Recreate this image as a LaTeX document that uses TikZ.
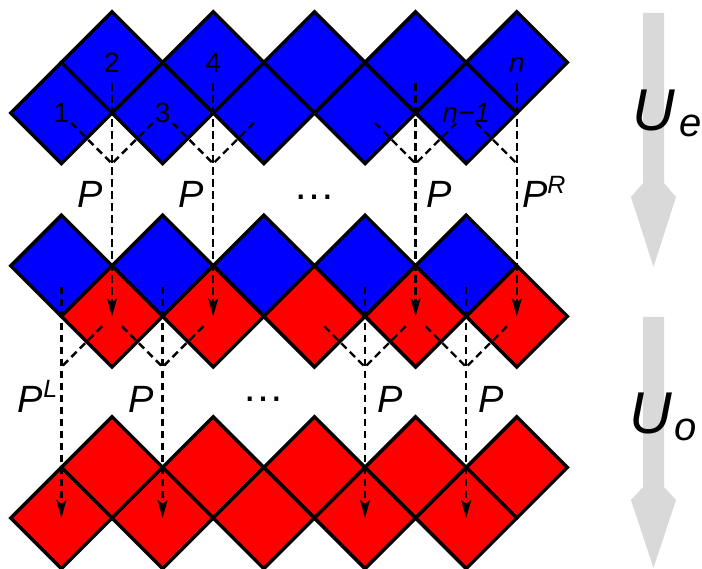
\documentclass[tikz,border=0pt]{standalone}
\usepackage{fontspec}
\setmainfont{Liberation Sans}
\usetikzlibrary{positioning,shapes.geometric,arrows.meta}

\tikzset{
  tile/.style={diamond, aspect=1, draw, line width=3.4pt, minimum size=101.2pt,
    inner sep=0pt, outer sep=0pt, font=\fontsize{28}{28}\selectfont,
    text height=20pt, text depth=0pt},
  btile/.style={tile, fill=blue},
  rtile/.style={tile, fill=red},
  gate/.style={line width=2.4pt, dash pattern=on 7.5pt off 4.5pt},
  gatearrow/.style={gate, -{Stealth[length=18pt,width=10pt,inset=4pt]}},
  plabel/.style={inner sep=0pt, font=\fontsize{38}{38}\selectfont\itshape,
    text height=27pt, text depth=0pt},
  dotlabel/.style={inner sep=0pt, anchor=base, font=\fontsize{42}{42}\selectfont},
  ulabel/.style={inner sep=0pt, anchor=base west, font=\fontsize{59}{59}\selectfont\itshape},
}

\begin{document}
\begin{tikzpicture}[x=1pt,y=-1pt]
\useasboundingbox (0,0) rectangle (702,569);

% top block
\node[btile] (a1) at (61.4,113) {1};
\node[btile] (a3) [right=0pt of a1] {3};
\node[btile] (a5) [right=0pt of a3] {};
\node[btile] (a7) [right=0pt of a5] {};
\node[btile] (a9) [right=0pt of a7] {\itshape n−1};
\node[btile] (a2) at (112,62.4) {2};
\node[btile] (a4) [right=0pt of a2] {4};
\node[btile] (a6) [right=0pt of a4] {};
\node[btile] (a8) [right=0pt of a6] {};
\node[btile] (a10) [right=0pt of a8] {\itshape n};

% middle block
\node[btile] (b1) at (61.4,265.8) {};
\node[btile] (b3) [right=0pt of b1] {};
\node[btile] (b5) [right=0pt of b3] {};
\node[btile] (b7) [right=0pt of b5] {};
\node[btile] (b9) [right=0pt of b7] {};
\node[rtile] (b2) at (112,316.4) {};
\node[rtile] (b4) [right=0pt of b2] {};
\node[rtile] (b6) [right=0pt of b4] {};
\node[rtile] (b8) [right=0pt of b6] {};
\node[rtile] (b10) [right=0pt of b8] {};

% bottom block
\node[rtile] (c2) at (112,467.4) {};
\node[rtile] (c4) [right=0pt of c2] {};
\node[rtile] (c6) [right=0pt of c4] {};
\node[rtile] (c8) [right=0pt of c6] {};
\node[rtile] (c10) [right=0pt of c8] {};
\node[rtile] (c1) at (61.4,518) {};
\node[rtile] (c3) [right=0pt of c1] {};
\node[rtile] (c5) [right=0pt of c3] {};
\node[rtile] (c7) [right=0pt of c5] {};
\node[rtile] (c9) [right=0pt of c7] {};

\coordinate (v2)  at (a2 |- a1.south);
\coordinate (v4)  at (a4 |- a1.south);
\coordinate (v8)  at (a8 |- a1.south);
\coordinate (v10) at (a10 |- a1.south);
\coordinate (w1)  at (b1 |- b2.south);
\coordinate (w3)  at (b3 |- b2.south);
\coordinate (w7)  at (b7 |- b2.south);
\coordinate (w9)  at (b9 |- b2.south);

\draw[gate, shorten <=14pt] (a1.center) -- (v2);
\draw[gate, shorten <=14pt] (a3.center) -- (v2);
\draw[gate, shorten <=14pt] (a3.center) -- (v4);
\draw[gate, shorten <=14pt] (a5.center) -- (v4);
\draw[gate, shorten <=14pt] (a7.center) -- (v8);
\draw[gate, shorten <=14pt] (a9.center) -- (v8);
\draw[gate, shorten <=14pt] (a9.center) -- (v10);

\draw[gate, shorten <=14pt] (b2.center) -- (w1);
\draw[gate, shorten <=14pt] (b2.center) -- (w3);
\draw[gate, shorten <=14pt] (b4.center) -- (w3);
\draw[gate, shorten <=14pt] (b6.center) -- (w7);
\draw[gate, shorten <=14pt] (b8.center) -- (w7);
\draw[gate, shorten <=14pt] (b8.center) -- (w9);
\draw[gate, shorten <=14pt] (b10.center) -- (w9);

\draw[gatearrow, shorten <=21pt] (a2.center)  -- (b2.center);
\draw[gatearrow, shorten <=21pt] (a4.center)  -- (b4.center);
\draw[gatearrow, shorten <=21pt] (a8.center)  -- (b8.center);
\draw[gatearrow, shorten <=21pt] (a10.center) -- (b10.center);
\draw[gatearrow, shorten <=21pt] (b1.center)  -- (c1.center);
\draw[gatearrow, shorten <=21pt] (b3.center)  -- (c3.center);
\draw[gatearrow, shorten <=21pt] (b7.center)  -- (c7.center);
\draw[gatearrow, shorten <=21pt] (b9.center)  -- (c9.center);

\node[plabel] (p2)  [below left=17pt and 9pt of v2]   {P};
\node[plabel] (p4)  [below left=17pt and 9pt of v4]   {P};
\node[plabel] (p8)  [below right=17pt and 11pt of v8] {P};
\node[plabel] (p10) [below right=17pt and 5pt of v10]
  {P\raisebox{14pt}{\fontsize{25}{25}\selectfont\itshape R}};
\node[dotlabel] (d1) at (314,200) {…};

\node[plabel] (q1)  [below left=18pt and 4pt of w1]
  {P\raisebox{15pt}{\fontsize{25}{25}\selectfont\itshape L}};
\node[plabel] (q3)  [below left=18pt and 9pt of w3]   {P};
\node[plabel] (q7)  [below right=18pt and 12pt of w7] {P};
\node[plabel] (q9)  [below right=18pt and 12pt of w9] {P};
\node[dotlabel] (d2) at (263,402) {…};

% time steps
\fill[black!15] (643,13) -- (664,13) -- (664,183) -- (676,197) -- (653.5,267)
  -- (631,197) -- (643,183) -- cycle;
\fill[black!15] (643,317) -- (664,317) -- (664,487) -- (676,500) -- (653.5,568)
  -- (631,500) -- (643,487) -- cycle;
\node[ulabel] (ue) at (632,131)
  {\itshape U\kern5pt\raisebox{-6pt}{\fontsize{40}{40}\selectfont\itshape e}};
\node[ulabel] (uo) at (629,434)
  {\itshape U\kern3pt\raisebox{-6pt}{\fontsize{40}{40}\selectfont\itshape o}};
\end{tikzpicture}
\end{document}
